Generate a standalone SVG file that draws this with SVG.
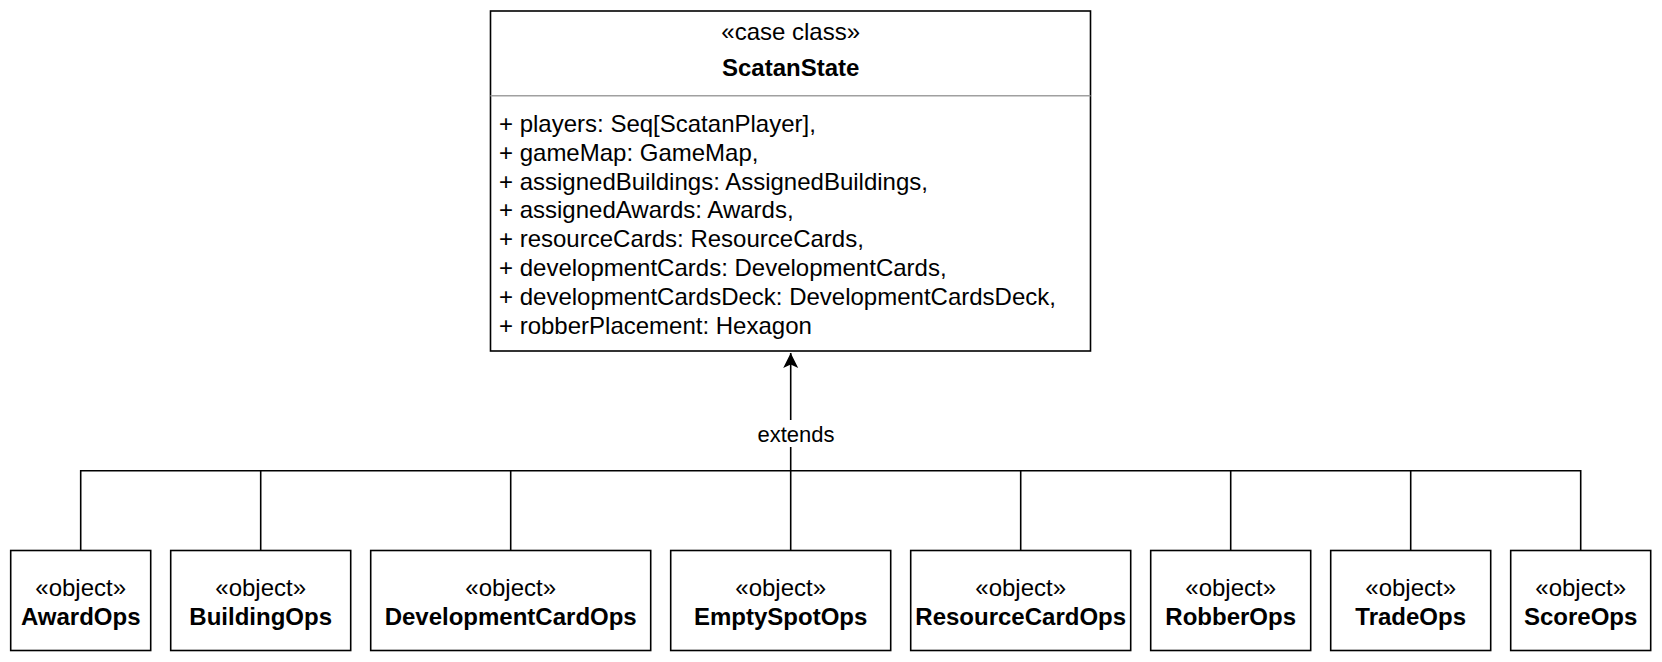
<svg xmlns="http://www.w3.org/2000/svg" width="1662" height="662" viewBox="0 0 1662 662">
<defs>
<style>
text{font-family:"Liberation Sans",Arial,Helvetica,sans-serif;font-size:24px;fill:#000}
.c{text-anchor:middle}
.b{font-weight:bold}
.box{fill:#fff;stroke:#000;stroke-width:1.6}
.ln{fill:none;stroke:#000;stroke-width:1.6}
.lbl{font-size:22px}
</style>
<marker id="arr" viewBox="0 0 16 16" refX="15" refY="8" markerWidth="16" markerHeight="16" markerUnits="userSpaceOnUse" orient="auto">
<path d="M15,8 L0,0.5 L3.5,8 L0,15.5 Z" fill="#000"/>
</marker>
</defs>
<rect width="1662" height="662" fill="#fff"/>

<g id="connectors">
<path class="ln" d="M790.7,550.5 L790.7,353" marker-end="url(#arr)"/>
<path class="ln" d="M80.7,550.5 V470.7 H1580.7 V550.5"/>
<path class="ln" d="M260.7,550.5 V470.7"/>
<path class="ln" d="M510.7,550.5 V470.7"/>
<path class="ln" d="M1020.7,550.5 V470.7"/>
<path class="ln" d="M1230.7,550.5 V470.7"/>
<path class="ln" d="M1410.7,550.5 V470.7"/>
<rect x="756" y="420" width="80" height="27" fill="#fff"/>
<text class="c lbl" x="796" y="441.5">extends</text>
</g>

<g id="ScatanState">
<rect class="box" x="490.5" y="11" width="600" height="340"/>
<text class="c" x="790.7" y="39.5">«case class»</text>
<text class="c b" x="790.7" y="76">ScatanState</text>
<line x1="490.5" y1="95.7" x2="1090.5" y2="95.7" stroke="#a0a0a0" stroke-width="1.6"/>
<text x="499" y="132">+ players: Seq[ScatanPlayer],</text>
<text x="499" y="160.8">+ gameMap: GameMap,</text>
<text x="499" y="189.6">+ assignedBuildings: AssignedBuildings,</text>
<text x="499" y="218.4">+ assignedAwards: Awards,</text>
<text x="499" y="247.2">+ resourceCards: ResourceCards,</text>
<text x="499" y="276">+ developmentCards: DevelopmentCards,</text>
<text x="499" y="304.8">+ developmentCardsDeck: DevelopmentCardsDeck,</text>
<text x="499" y="333.6">+ robberPlacement: Hexagon</text>
</g>

<g id="AwardOps">
<rect class="box" x="10.7" y="550.5" width="140" height="100"/>
<text class="c" x="80.7" y="596">«object»</text>
<text class="c b" x="80.7" y="625">AwardOps</text>
</g>
<g id="BuildingOps">
<rect class="box" x="170.7" y="550.5" width="180" height="100"/>
<text class="c" x="260.7" y="596">«object»</text>
<text class="c b" x="260.7" y="625">BuildingOps</text>
</g>
<g id="DevelopmentCardOps">
<rect class="box" x="370.7" y="550.5" width="280" height="100"/>
<text class="c" x="510.7" y="596">«object»</text>
<text class="c b" x="510.7" y="625">DevelopmentCardOps</text>
</g>
<g id="EmptySpotOps">
<rect class="box" x="670.7" y="550.5" width="220" height="100"/>
<text class="c" x="780.7" y="596">«object»</text>
<text class="c b" x="780.7" y="625">EmptySpotOps</text>
</g>
<g id="ResourceCardOps">
<rect class="box" x="910.7" y="550.5" width="220" height="100"/>
<text class="c" x="1020.7" y="596">«object»</text>
<text class="c b" x="1020.7" y="625">ResourceCardOps</text>
</g>
<g id="RobberOps">
<rect class="box" x="1150.7" y="550.5" width="160" height="100"/>
<text class="c" x="1230.7" y="596">«object»</text>
<text class="c b" x="1230.7" y="625">RobberOps</text>
</g>
<g id="TradeOps">
<rect class="box" x="1330.7" y="550.5" width="160" height="100"/>
<text class="c" x="1410.7" y="596">«object»</text>
<text class="c b" x="1410.7" y="625">TradeOps</text>
</g>
<g id="ScoreOps">
<rect class="box" x="1510.7" y="550.5" width="140" height="100"/>
<text class="c" x="1580.7" y="596">«object»</text>
<text class="c b" x="1580.7" y="625">ScoreOps</text>
</g>
</svg>
